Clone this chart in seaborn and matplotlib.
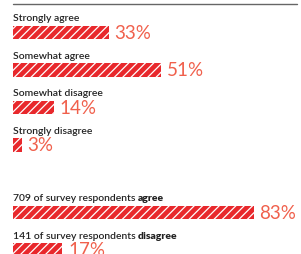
import numpy as np
import pandas as pd
import seaborn as sns
import matplotlib.pyplot as plt

# breakdown of answers
categories = ['Strongly agree', 'Somewhat agree', 'Somewhat disagree', 'Strongly disagree']
shares = [33, 51, 14, 3]

# summary rows
summary_counts = [709, 141]
summary_words = ['agree', 'disagree']
summary_shares = [83, 17]

bar_red = '#e8282c'
pct_color = '#f0604c'
text_color = '#222222'

sns.set_style('white')
plt.rcParams['font.family'] = ['Lato', 'DejaVu Sans']
plt.rcParams['hatch.linewidth'] = 0.9

W, H = 301, 255
fig = plt.figure(figsize=(W / 100, H / 100), dpi=100)

# top rule
fig.add_artist(plt.Line2D([13 / W, 297 / W], [1 - 4.5 / H] * 2, color='#666666', lw=1))

ax1 = fig.add_axes([13 / W, (H - 164.75) / H, 288 / W, 150 / H])
ax2 = fig.add_axes([13 / W, (H - 269.75) / H, 288 / W, 75 / H])

top = pd.DataFrame({'cat': categories, 'share': shares})
bottom = pd.DataFrame({'cat': [f'{c} of survey respondents {w}' for c, w in zip(summary_counts, summary_words)],
                       'share': summary_shares})

for ax, df in [(ax1, top), (ax2, bottom)]:
    sns.barplot(data=df, x='share', y='cat', orient='h', ax=ax, color=bar_red,
                width=0.35, hatch='////', edgecolor='white', linewidth=0, saturation=1)
    ax.set_xlim(0, 288 / 2.9)
    ax.set_ylim(len(df) - 0.5, -0.5)
    ax.axis('off')
    for i, v in enumerate(df['share']):
        ax.text(v + 2, i, f'{v}%', color=pct_color, fontsize=13.5, fontweight='normal',
                va='center', ha='left')

for i, c in enumerate(categories):
    ax1.text(0, i - 0.39, c, color=text_color, fontsize=7.5, fontweight='semibold',
             va='center', ha='left')

for i, (n, w) in enumerate(zip(summary_counts, summary_words)):
    t = ax2.text(0, i - 0.39, f'{n} of survey respondents ', color=text_color, fontsize=7.5,
                 fontweight='semibold', va='center', ha='left')
    ax2.annotate(w, xy=(1, 0), xycoords=t, va='bottom', ha='left', color=text_color,
                 fontsize=7.5, fontweight='heavy')

fig.savefig('out.png', dpi=100)
